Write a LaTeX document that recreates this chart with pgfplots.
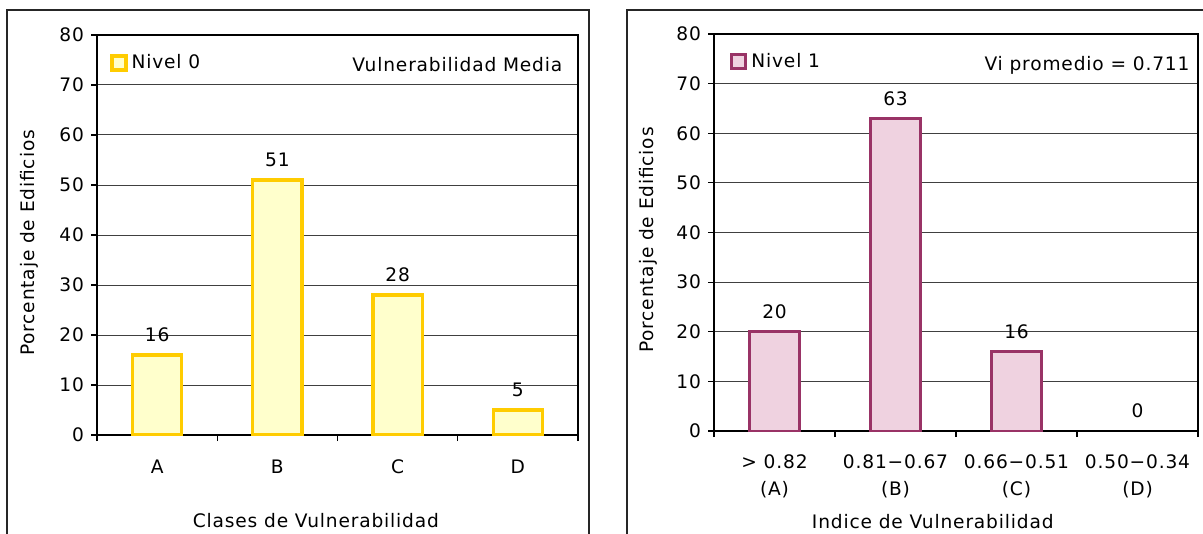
\documentclass[border=0pt]{standalone}
\usepackage{fontspec}
\setmainfont{DejaVu Sans}[LetterSpace=4.5]
\usepackage{pgfplots}
\pgfplotsset{compat=1.18}

\definecolor{goldedge}{HTML}{FFCC00}
\definecolor{paleyellow}{HTML}{FFFFCC}
\definecolor{plumedge}{HTML}{993366}
\definecolor{pinkdots}{HTML}{EFD2E0}

\pgfplotsset{
  vulnbase/.style={
    scale only axis,
    ybar, bar width=0.41,
    xmin=-0.5, xmax=3.5, ymin=0, ymax=80,
    ytick={0,10,...,80},
    xtick={-0.5,0.5,1.5,2.5,3.5},
    xticklabels={},
    major tick length=3pt,
    tick align=outside,
    tick pos=left,
    ymajorgrids,
    grid style={black!75, line width=0.5pt},
    axis line style={black, line width=0.6pt},
    tick style={black, line width=0.6pt},
    /pgf/number format/assume math mode=true,
    font=\fontsize{9.3}{11}\selectfont,
    tick label style={font=\fontsize{9.3}{11}\selectfont},
    label style={font=\fontsize{9.3}{11}\selectfont},
    legend style={draw=none, fill=none, inner sep=0pt,
      font=\fontsize{9.3}{11}\selectfont},
    legend cell align=left,
    legend image code/.code={\draw[##1] (0pt,-3.5pt) rectangle (7pt,3.5pt);},
    ylabel={Porcentaje de Edificios},
    nodes near coords,
    every node near coord/.append style={anchor=center, yshift=10pt, text=black,
      font=\fontsize{9.3}{11}\selectfont},
  }
}

\begin{document}
\begin{tikzpicture}
\path[use as bounding box, clip] (0,0) rectangle (601.5pt,-267pt);
\fill[white] (0,0) rectangle (601.5pt,-267pt);
% chart frames
\draw[black!85, line width=0.6pt] (3.5pt,-5pt) rectangle (294.5pt,-300pt);
\draw[black!85, line width=0.6pt] (313.5pt,-5pt) rectangle (640pt,-300pt);

% Nivel 0
\begin{axis}[vulnbase,
  at={(48.5pt,-217.5pt)}, anchor=south west,
  width=240.5pt, height=200pt,
  extra x ticks={0,1,2,3},
  extra x tick labels={A,B,C,D},
  extra x tick style={major tick length=0pt,
    xticklabel style={anchor=center, yshift=-16pt}},
  xlabel={Clases de Vulnerabilidad},
  xlabel style={at={(axis description cs:0.455,-0.215)}, anchor=center},
  ylabel style={at={(axis description cs:-0.141,0.48)}, anchor=center},
  legend style={at={(axis description cs:0.027,0.93)}, anchor=west},
]
\addplot[draw=goldedge, fill=paleyellow, line width=1.6pt]
  coordinates {(0,16) (1,51) (2,28) (3,5)};
\addlegendentry{Nivel 0}
\node[anchor=east, font=\fontsize{9.3}{11}\selectfont]
  at (axis description cs:0.982,0.925) {Vulnerabilidad Media};
\end{axis}

% Nivel 1
\begin{axis}[vulnbase,
  at={(357pt,-215.5pt)}, anchor=south west,
  width=242pt, height=198.5pt,
  extra x ticks={0,1,2,3},
  extra x tick labels={{> 0.82\\(A)},{0.81−0.67\\(B)},{0.66−0.51\\(C)},{0.50−0.34\\(D)}},
  extra x tick style={major tick length=0pt,
    xticklabel style={align=center, anchor=center, yshift=-22.75pt,
      font=\fontsize{9.3}{13.5}\selectfont}},
  xlabel={Indice de Vulnerabilidad},
  xlabel style={at={(axis description cs:0.452,-0.227)}, anchor=center},
  ylabel style={at={(axis description cs:-0.136,0.481)}, anchor=center},
  legend style={at={(axis description cs:0.033,0.93)}, anchor=west},
]
\addplot[draw=plumedge, fill=pinkdots, line width=1.5pt]
  coordinates {(0,20) (1,63) (2,16)};
\addlegendentry{Nivel 1}
% empty class D: value 0, only its label shows
\addplot[draw=none, fill=none, bar shift=0pt, forget plot]
  coordinates {(3,0)};
\node[anchor=east, font=\fontsize{9.3}{11}\selectfont]
  at (axis description cs:0.997,0.922) {Vi promedio = 0.711};
\end{axis}
\end{tikzpicture}
\end{document}
